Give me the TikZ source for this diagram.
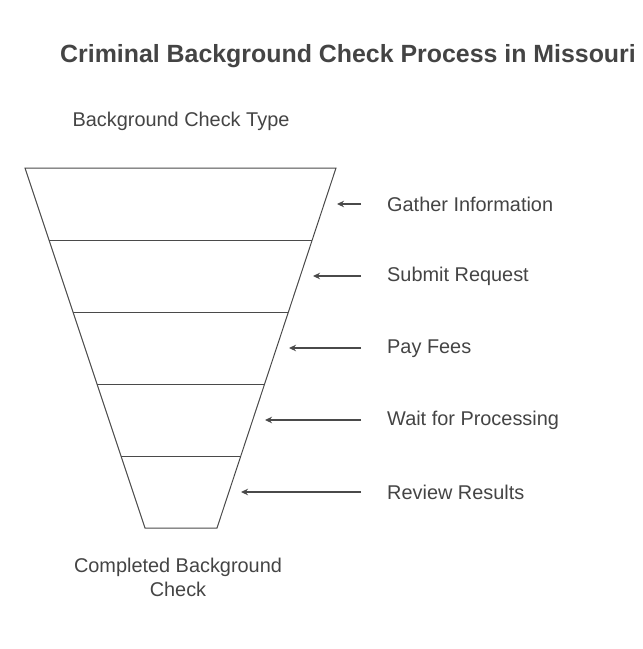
\documentclass[tikz,border=0pt]{standalone}
\usepackage{fontspec}
\setmainfont{Liberation Sans}
\usetikzlibrary{arrows.meta}
\definecolor{txt}{HTML}{444444}
\definecolor{ln}{HTML}{4A4A4A}
\begin{document}
\begin{tikzpicture}[x=1pt,y=-1pt,
  lbl/.style={font=\fontsize{19.9}{24}\selectfont,text=txt,anchor=west,inner sep=0},
  captxt/.style={font=\fontsize{19.9}{24}\selectfont,text=txt,align=center,inner sep=0},
  funnelline/.style={draw=ln,line width=1pt},
  arr/.style={draw=ln,line width=1.2pt,-{Stealth[length=7pt,width=6.5pt]}}]
\useasboundingbox (0,0) rectangle (643,649);
\node[font=\bfseries\fontsize{24.9}{28}\selectfont,text=txt,anchor=base west,inner sep=0] (title) at (60,62) {Criminal Background Check Process in Missouri};
\node[captxt] (top) at (181,121) {Background Check Type};
\node[captxt] (bot) at (178,577) {Completed Background\\Check};
% funnel levels
\foreach \i in {0,...,5}{
  \coordinate (L\i) at ({25+24*\i},{168+72*\i});
  \coordinate (R\i) at ({336-23.8*\i},{168+72*\i});
}
\draw[funnelline] (L0) -- (R0) -- (R5) -- (L5) -- cycle;
\foreach \i in {1,...,4}{ \draw[funnelline] (L\i) -- (R\i); }
% arrows and labels
\foreach \i/\t in {0/Gather Information,1/Submit Request,2/Pay Fees,3/Wait for Processing,4/Review Results}{
  \coordinate (s\i) at (361,{204+72*\i});
  \coordinate (e\i) at ({337-24*\i},{204+72*\i});
  \draw[arr] (s\i) -- (e\i);
  \node[lbl] (t\i) at (387,{204.5+72*\i}) {\t};
}
\end{tikzpicture}
\end{document}
